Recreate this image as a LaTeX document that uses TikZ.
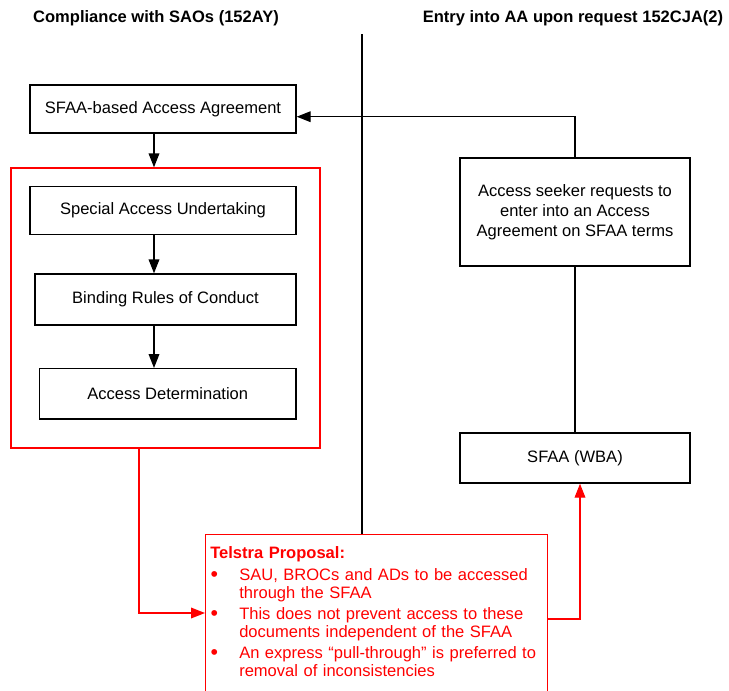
\documentclass[tikz,border=0pt]{standalone}
\usepackage{fontspec}
\setmainfont{Liberation Sans}
\usetikzlibrary{arrows.meta,calc}
\newcommand{\tpitem}[1]{\par\noindent\makebox[21.75pt][l]{\hspace{0.2pt}\raisebox{-0.6pt}{\fontsize{16}{13.5}\selectfont\textbullet}}\parbox[t]{230pt}{\raggedright #1}}
\begin{document}
\begin{tikzpicture}[x=0.75pt,y=-0.75pt,
  every node/.style={font=\fontsize{12.4}{15}\selectfont},
  box/.style={draw=black,line width=1pt,inner sep=0pt,align=center},
  redbox/.style={draw=red,line width=1pt,inner sep=0pt},
  conn/.style={draw=black,line width=1pt},
  arr/.style={conn,-{Triangle[length=10.5pt,width=8pt]}},
  redarr/.style={draw=red,line width=1pt,-{Triangle[length=10.5pt,width=8pt]}},
  hdr/.style={font=\fontsize{12.4}{15}\selectfont\bfseries,inner sep=0pt}]
\useasboundingbox (0,0) rectangle (729,690);
% headers
\node[hdr] (h1) at (156,18) {Compliance with SAOs (152AY)};
\node[hdr] (h2) at (573,18) {Entry into AA upon request 152CJA(2)};
% left column
\node[box,minimum width=199.5pt,minimum height=36pt] (sfaa) at (163,109) {SFAA-based Access Agreement};
\node[redbox,minimum width=231.75pt,minimum height=210pt] (grp) at (165.5,308) {};
\node[box,minimum width=199.5pt,minimum height=36pt] (sau) at (163,210.7) {Special Access Undertaking};
\node[box,minimum width=195.75pt,minimum height=38.25pt] (brc) at (165.5,299.5) {Binding Rules of Conduct};
\node[box,minimum width=192.4pt,minimum height=37.7pt] (ad) at (167.75,393.85) {Access Determination};
% right column
\node[box,minimum width=172.5pt,minimum height=81pt] (seek) at (575,212) {Access seeker requests to\\enter into an Access\\Agreement on SFAA terms};
\node[box,minimum width=172.5pt,minimum height=37.5pt] (wba) at (575,458) {SFAA (WBA)};
% Telstra proposal
\node[redbox,minimum width=256.5pt,minimum height=124.5pt,anchor=north west] (tp) at (205,534) {};
\node[anchor=north west,inner sep=0pt,text width=255pt,text=red,
  font=\fontsize{12.4}{13.5}\selectfont] (tptext) at (210,546) {\setlength{\parskip}{3.3pt}%
  \noindent\textbf{Telstra Proposal:}%
  \tpitem{SAU, BROCs and ADs to be accessed\\through the SFAA}%
  \tpitem{This does not prevent access to these\\documents independent of the SFAA}%
  \tpitem{An express \textquotedblleft pull-through\textquotedblright{} is preferred to\\removal of inconsistencies}};
% divider
\coordinate (dtop) at (362,34);
\draw[conn] (dtop) -- (dtop |- tp.north);
% connectors
\coordinate (ax) at (154,0);
\draw[arr] (sfaa.south -| ax) -- (grp.north -| ax);
\draw[arr] (sau.south -| ax) -- (brc.north -| ax);
\draw[arr] (brc.south -| ax) -- (ad.north -| ax);
\coordinate (ty) at (0,116.7);
\draw[arr] (seek.north) |- (sfaa.east |- ty);
\draw[conn] (seek.south) -- (wba.north);
\coordinate (rx1) at (139,0);
\coordinate (ry1) at (0,613);
\draw[redarr] (grp.south -| rx1) |- (tp.west |- ry1);
\coordinate (rx2) at (580,0);
\coordinate (ry2) at (0,619);
\draw[redarr] (tp.east |- ry2) -| (wba.south -| rx2);
\end{tikzpicture}
\end{document}
